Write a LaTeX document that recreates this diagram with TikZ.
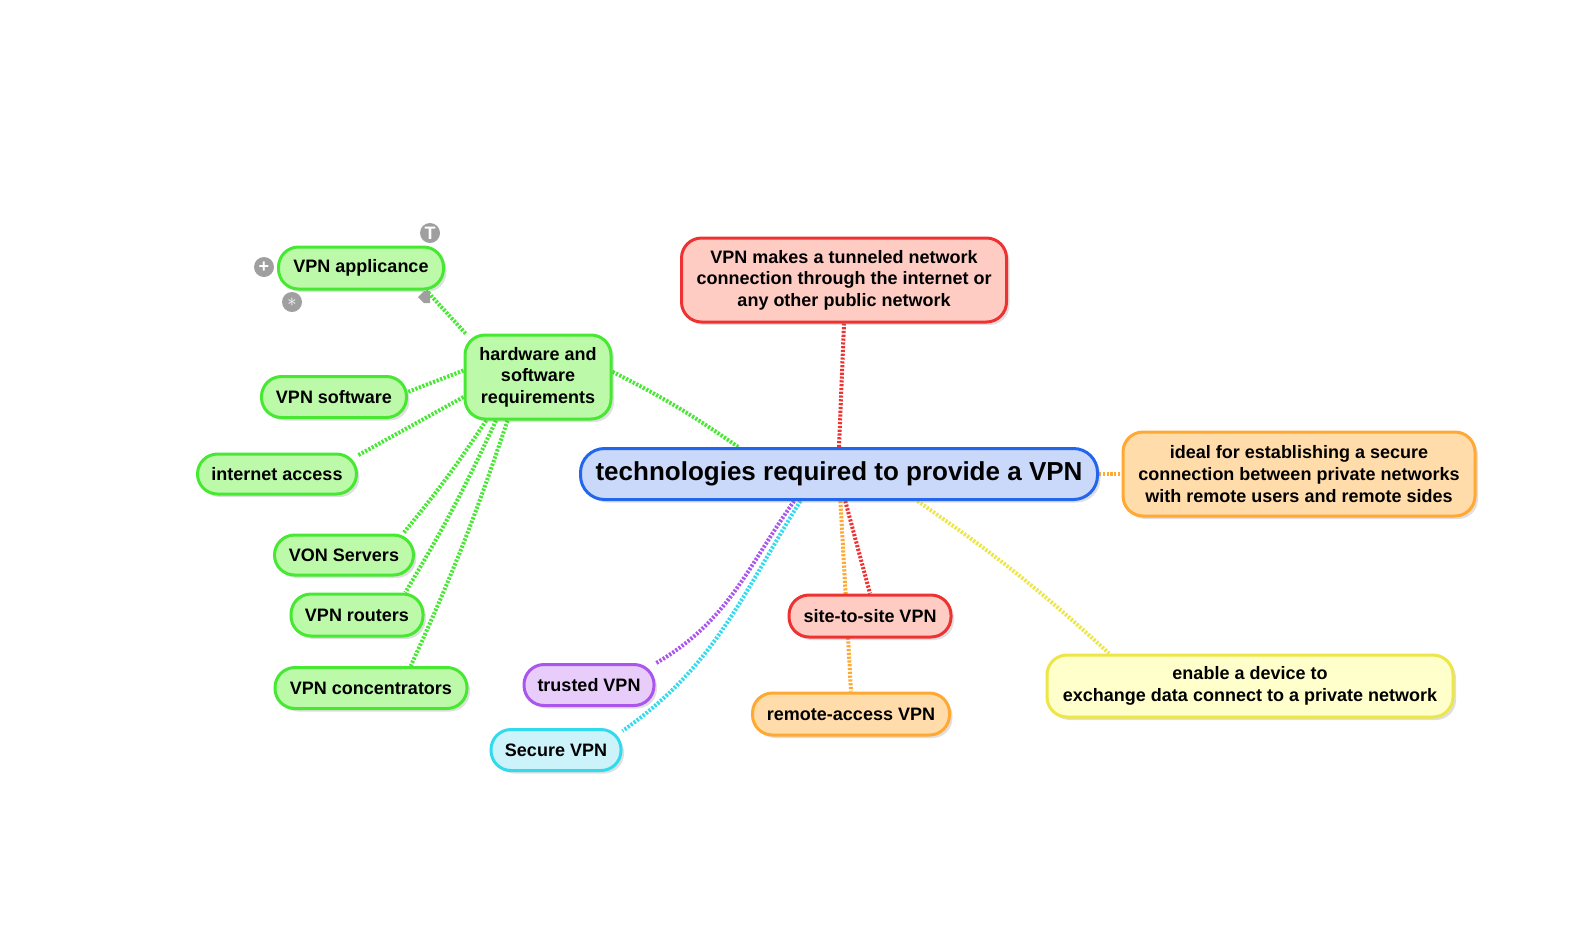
\documentclass[tikz,border=0pt]{standalone}
\usepackage{fontspec}
\setmainfont{Liberation Sans}
\usetikzlibrary{shadows}
\pgfdeclarelayer{background}
\pgfsetlayers{background,main}

\definecolor{grnline}{RGB}{70,232,50}
\definecolor{grnfill}{RGB}{188,250,170}
\definecolor{bluline}{RGB}{34,102,238}
\definecolor{blufill}{RGB}{202,216,250}
\definecolor{redline}{RGB}{238,50,50}
\definecolor{redfill}{RGB}{255,204,196}
\definecolor{oraline}{RGB}{255,168,50}
\definecolor{orafill}{RGB}{255,220,170}
\definecolor{yelline}{RGB}{236,230,70}
\definecolor{yelfill}{RGB}{255,255,204}
\definecolor{purline}{RGB}{170,85,238}
\definecolor{purfill}{RGB}{232,204,250}
\definecolor{cyaline}{RGB}{50,218,238}
\definecolor{cyafill}{RGB}{204,242,250}

\tikzset{
  bubble/.style={draw, line width=1.5pt, rounded corners=10pt, inner sep=0pt, align=center,
    font=\bfseries\fontsize{9}{10.8}\selectfont,
    drop shadow={shadow xshift=1.5pt, shadow yshift=-1.5pt, opacity=0.25}},
  grn/.style={bubble, draw=grnline, fill=grnfill},
  blu/.style={bubble, draw=bluline, fill=blufill},
  rd/.style={bubble, draw=redline, fill=redfill},
  ora/.style={bubble, draw=oraline, fill=orafill},
  yel/.style={bubble, draw=yelline, fill=yelfill},
  pur/.style={bubble, draw=purline, fill=purfill},
  cya/.style={bubble, draw=cyaline, fill=cyafill},
  link/.style={line width=2pt, dash pattern=on 1.1pt off 0.8pt},
  icon/.style={circle, fill=gray!75, inner sep=0pt, minimum size=10pt, text=white,
    font=\bfseries\fontsize{9}{9}\selectfont},
}

\begin{document}
\begin{tikzpicture}[x=0.5pt, y=-0.5pt]
	\useasboundingbox (0,0) rectangle (1582,950);
	\node[blu, rounded corners=12pt, minimum width=258.5pt, minimum height=25.5pt,
		font=\bfseries\fontsize{13}{15}\selectfont] (vpn) at (839,474) {technologies required to provide a VPN};
	\node[rd, minimum width=162.5pt, minimum height=42pt] (tunnel) at (844,280) {VPN makes a tunneled network\\connection through the internet or\\any other public network};
	\node[ora, minimum width=176pt, minimum height=42pt] (ideal) at (1299,474) {ideal for establishing a secure\\connection between private networks\\with remote users and remote sides};
	\node[yel, minimum width=203pt, minimum height=31pt] (enable) at (1250,686) {enable a device to\\exchange data connect to a private network};
	\node[rd, minimum width=81pt, minimum height=21pt] (site) at (870,616) {site-to-site VPN};
	\node[ora, minimum width=98.5pt, minimum height=21pt] (remote) at (851,714) {remote-access VPN};
	\node[pur, minimum width=65pt, minimum height=20.5pt] (trusted) at (589,685) {trusted VPN};
	\node[cya, minimum width=65pt, minimum height=20.5pt] (secure) at (556,750) {Secure VPN};
	\node[grn, minimum width=73pt, minimum height=42pt] (hw) at (538,377) {hardware and\\software\\requirements};
	\node[grn, minimum width=82.5pt, minimum height=21pt] (appl) at (361,268) {VPN applicance};
	\node[grn, minimum width=72.5pt, minimum height=20.5pt] (soft) at (334,397) {VPN software};
	\node[grn, minimum width=79.5pt, minimum height=20pt] (inet) at (277,474) {internet access};
	\node[grn, minimum width=69.5pt, minimum height=20pt] (von) at (344,555) {VON Servers};
	\node[grn, minimum width=66pt, minimum height=21pt] (routers) at (357,615) {VPN routers};
	\node[grn, minimum width=96pt, minimum height=20.5pt] (conc) at (371,688) {VPN concentrators};

	\node[icon] (icont) at (430,233) {T};
	\node[icon] (iconplus) at (264,267) {+};
	\node[icon] (iconstar) at (292,302) {$\ast$};
	\fill[gray!75] (418,297) -- (424,291) -- (430,291) -- (430,303) -- (424,303) -- cycle;

	\begin{pgfonlayer}{background}
		\draw[link, grnline] (hw.149) -- (appl.-19);
		\draw[link, grnline] (hw.175) -- (soft.4);
		\draw[link, grnline] (hw.-165) -- (inet.13);
		\draw[link, grnline] (hw.-140) to[bend left=3] (von.20);
		\draw[link, grnline] (hw.-134) to[bend left=3] (routers.25);
		\draw[link, grnline] (hw.-125) to[bend left=3] (conc.29);
		\draw[link, grnline] (hw.4) to[bend left=4] (vpn.165);
		\draw[link, redline] (vpn.north) -- (tunnel.south);
		\draw[link, oraline] (vpn.east) -- (ideal.west);
		\draw[link, yelline] (vpn.-19) to[bend left=4] (enable.167);
		\draw[link, oraline] (vpn.-87) -- (remote.north);
		\draw[link, redline] (vpn.-77) -- (site.north);
		\draw[link, purline] (vpn.-149) to[out=-125, in=30] (trusted.18);
		\draw[link, cyaline] (vpn.-145) to[out=-122, in=35] (secure.16);
	\end{pgfonlayer}
\end{tikzpicture}
\end{document}
